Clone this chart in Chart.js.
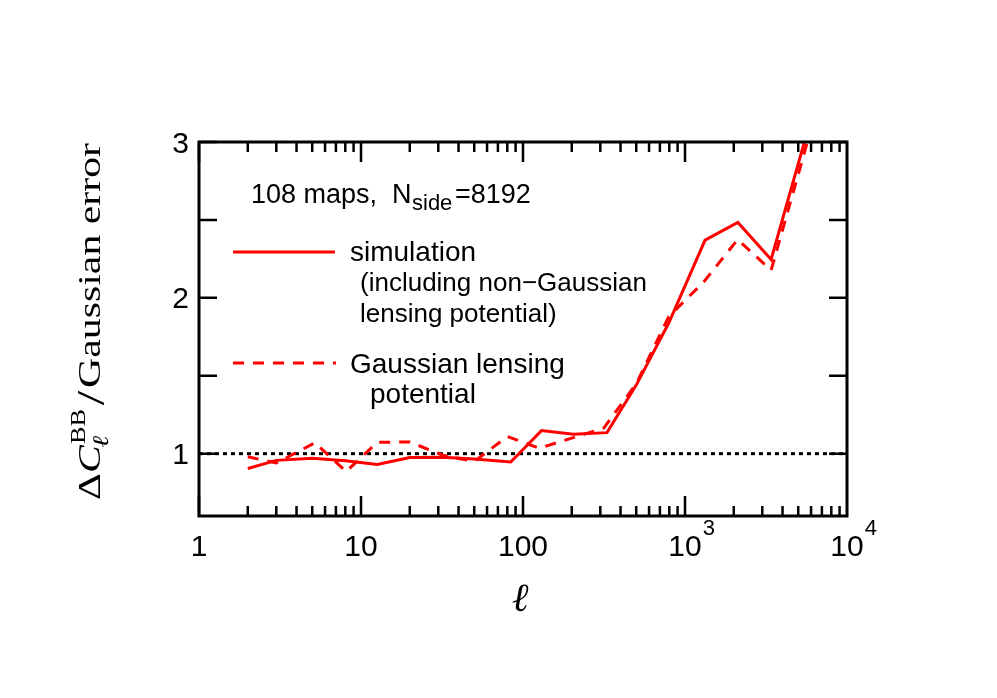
<!DOCTYPE html>
<html>
<head>
<meta charset="utf-8">
<script src="https://cdn.jsdelivr.net/npm/chart.js@4"></script>
<style>
  html, body { margin: 0; padding: 0; background: #fff; }
</style>
</head>
<body>
<canvas id="chart" width="997" height="698"></canvas>
<script>
// simulation (incl. non-Gaussian lensing potential), solid
const simEll   = [2, 3, 5, 8, 12.6, 20, 32, 50, 84, 130, 205, 330, 500, 795, 1330, 2120, 3400, 5600];
const simRatio = [0.905, 0.957, 0.970, 0.955, 0.930, 0.975, 0.977, 0.966, 0.947, 1.148, 1.125, 1.135, 1.44, 1.84, 2.37, 2.484, 2.246, 3.04];
// Gaussian lensing potential, dashed
const gaussEll   = [2, 3, 5.2, 8.1, 12.6, 20, 32, 50, 80, 126, 200, 316, 501, 794, 1300, 2115, 3400, 5840];
const gaussRatio = [0.98, 0.94, 1.07, 0.885, 1.073, 1.075, 0.99, 0.95, 1.11, 1.035, 1.10, 1.165, 1.45, 1.88, 2.10, 2.374, 2.177, 3.04];
// axes
const xTicks = [1, 10, 100, 1000, 10000];
const xTickBase = ['1', '10', '100', '10', '10'];
const xTickSup = ['', '', '', '3', '4'];
const yTicks = [1, 2, 3];
const yTickMarks = [1, 1.5, 2, 2.5, 3];

const RED = '#ff0000';
const SANS = '"Liberation Sans", Arial, sans-serif';
const SERIF = '"Liberation Serif", "Times New Roman", serif';

function txt(ctx, s, x, y, font, align) {
  ctx.font = font;
  ctx.textAlign = align || 'left';
  ctx.fillText(s, x, y);
  return ctx.measureText(s).width;
}

const framePlugin = {
  id: 'frame',
  afterDraw(chart) {
    const { ctx, chartArea: a, scales: { x, y } } = chart;
    ctx.save();
    ctx.strokeStyle = '#000';
    ctx.fillStyle = '#000';
    ctx.lineCap = 'butt';

    // inward ticks
    ctx.lineWidth = 2.5;
    ctx.beginPath();
    for (let d = 1; d < 10000; d *= 10) {
      for (let m = 1; m <= 9; m++) {
        const px = x.getPixelForValue(d * m);
        const len = m === 1 ? 20 : 10;
        ctx.moveTo(px, a.bottom); ctx.lineTo(px, a.bottom - len);
        ctx.moveTo(px, a.top); ctx.lineTo(px, a.top + len);
      }
    }
    yTickMarks.forEach(v => {
      const py = y.getPixelForValue(v);
      ctx.moveTo(a.left, py); ctx.lineTo(a.left + 18, py);
      ctx.moveTo(a.right, py); ctx.lineTo(a.right - 18, py);
    });
    ctx.stroke();

    // frame
    ctx.lineWidth = 3;
    ctx.strokeRect(a.left, a.top, a.right - a.left, a.bottom - a.top);

    // tick labels
    ctx.textBaseline = 'alphabetic';
    xTicks.forEach((v, i) => {
      const px = x.getPixelForValue(v);
      const w = txt(ctx, xTickBase[i], px, 556, '30px ' + SANS, 'center');
      if (xTickSup[i]) txt(ctx, xTickSup[i], px + w / 2 + 1, 535, '22px ' + SANS, 'left');
    });
    yTicks.forEach(v => {
      const py = y.getPixelForValue(v);
      txt(ctx, String(v), 189, py + 10.5, '30px ' + SANS, 'right');
    });

    // x title
    txt(ctx, 'ℓ', 520, 611, 'italic 40px ' + SERIF, 'center');

    // y title, rotated, stretched along the text to match the original length
    const parts = [
      { s: 'Δ', f: '32px ' + SERIF, dy: 0, adv: true },
      { s: 'C', f: 'italic 32px ' + SERIF, dy: 0, adv: true },
      { s: 'BB', f: '20px ' + SERIF, dy: -15, adv: false, gap: 1 },
      { s: 'ℓ', f: 'italic 22px ' + SERIF, dy: 8, adv: true, gap: -2 },
      { s: '/', f: '40px ' + SERIF, dy: 4, adv: true, gap: 6 },
      { s: 'Gaussian error', f: '32px ' + SERIF, dy: 0, adv: true, gap: 2 }
    ];
    let W = 0, pend = 0;
    parts.forEach(p => {
      ctx.font = p.f;
      const w = ctx.measureText(p.s).width;
      p.x = W + (p.gap || 0);
      if (p.adv) { W = p.x + Math.max(w, pend); pend = 0; } else { pend = w; }
    });
    const k = 357 / W;
    ctx.save();
    ctx.translate(100, 500);
    ctx.rotate(-Math.PI / 2);
    ctx.scale(k, 1);
    parts.forEach(p => txt(ctx, p.s, p.x, p.dy, p.f, 'left'));
    ctx.restore();

    // annotation
    txt(ctx, '108 maps,', 251, 203, '27px ' + SANS);
    txt(ctx, 'N', 392, 203, '27px ' + SANS);
    txt(ctx, 'side', 412, 210, '22px ' + SANS);
    txt(ctx, '=8192', 455, 203, '27px ' + SANS);

    // legend
    ctx.strokeStyle = RED;
    ctx.lineWidth = 3;
    ctx.beginPath(); ctx.moveTo(233, 252); ctx.lineTo(335, 252); ctx.stroke();
    ctx.setLineDash([11, 9]);
    ctx.beginPath(); ctx.moveTo(233, 363); ctx.lineTo(336, 363); ctx.stroke();
    ctx.setLineDash([]);
    txt(ctx, 'simulation', 350, 261, '28px ' + SANS);
    txt(ctx, '(including non\u2212Gaussian', 360, 291, '26px ' + SANS);
    txt(ctx, 'lensing potential)', 360, 322, '26px ' + SANS);
    txt(ctx, 'Gaussian lensing', 350, 373, '28px ' + SANS);
    txt(ctx, 'potential', 370, 403, '28px ' + SANS);

    ctx.restore();
  }
};

const pts = (xs, ys) => xs.map((v, i) => ({ x: v, y: ys[i] }));

new Chart(document.getElementById('chart'), {
  type: 'line',
  data: {
    datasets: [
      { data: pts(simEll, simRatio), borderColor: RED, borderWidth: 3, pointRadius: 0, tension: 0, fill: false },
      { data: pts(gaussEll, gaussRatio), borderColor: RED, borderWidth: 3, borderDash: [11, 9], pointRadius: 0, tension: 0, fill: false },
      { data: pts([xTicks[0], xTicks[xTicks.length - 1]], [1, 1]), borderColor: '#000', borderWidth: 3, borderDash: [4, 4], pointRadius: 0, fill: false }
    ]
  },
  options: {
    responsive: false,
    animation: false,
    layout: { padding: { left: 199, right: 150, top: 142, bottom: 182 } },
    plugins: { legend: { display: false }, tooltip: { enabled: false } },
    scales: {
      x: { type: 'logarithmic', min: 1, max: 10000, display: false },
      y: { type: 'linear', min: 0.6, max: 3, display: false }
    }
  },
  plugins: [framePlugin]
});
</script>
</body>
</html>
